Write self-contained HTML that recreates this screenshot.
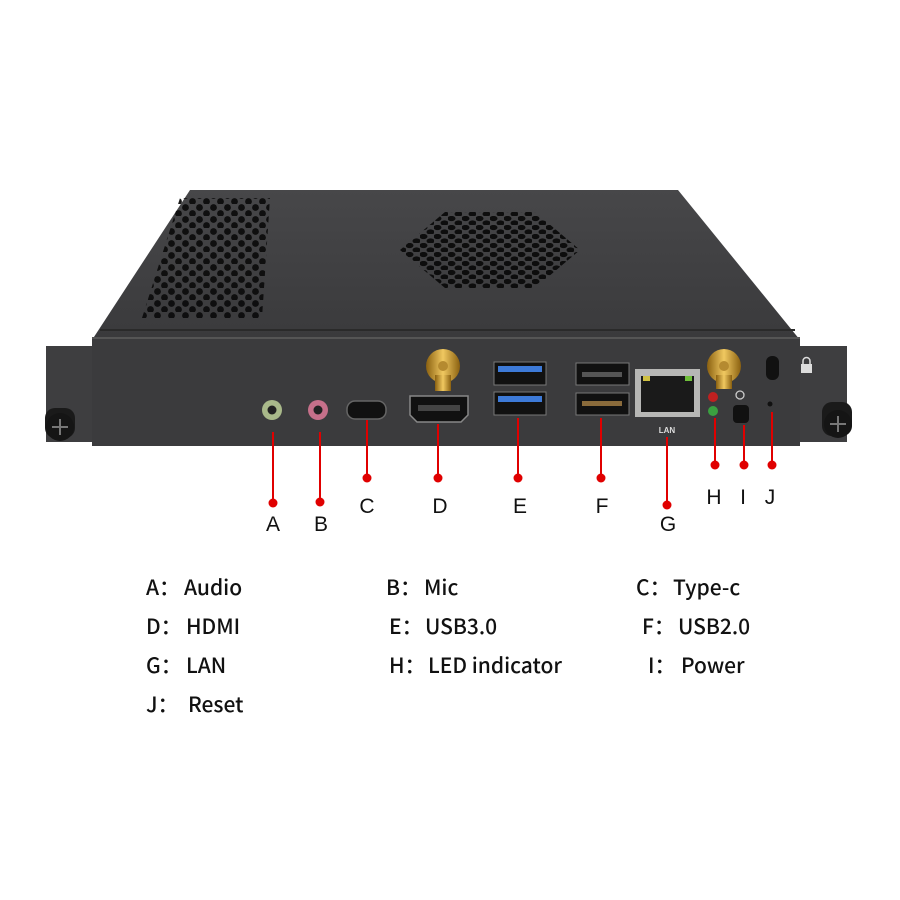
<!DOCTYPE html>
<html><head><meta charset="utf-8"><style>
html,body{margin:0;padding:0;background:#fff;}
svg{display:block}
.l{font-family:"Liberation Sans",sans-serif;font-size:21px;fill:#111}
.t{font-family:"Noto Sans CJK SC","Liberation Sans",sans-serif;font-size:21px;fill:#111;font-weight:500}
</style></head><body>
<svg width="900" height="900" viewBox="0 0 900 900" xmlns="http://www.w3.org/2000/svg">
<defs>
<pattern id="hx" width="14" height="12" patternUnits="userSpaceOnUse">
<circle cx="3.5" cy="3.5" r="3.4" fill="#0c0c0c"/><circle cx="10.5" cy="9.5" r="3.4" fill="#0c0c0c"/>
</pattern>
<pattern id="hx2" width="14" height="9" patternUnits="userSpaceOnUse">
<ellipse cx="3.5" cy="2.5" rx="4" ry="2.6" fill="#0d0d0d"/><ellipse cx="10.5" cy="7" rx="4" ry="2.6" fill="#0d0d0d"/>
</pattern>
<linearGradient id="top" x1="0" y1="0" x2="0" y2="1"><stop offset="0" stop-color="#474749"/><stop offset="1" stop-color="#3a3a3c"/></linearGradient>
<linearGradient id="gold" x1="0" y1="0" x2="1" y2="0"><stop offset="0" stop-color="#8a6010"/><stop offset=".5" stop-color="#f0c860"/><stop offset="1" stop-color="#8a6010"/></linearGradient>
</defs>
<polygon points="190,190 678,190 800,340 92,340" fill="url(#top)"/>
<polygon points="180,198 270,198 262,318 142,318" fill="url(#hx)" opacity=".95"/>
<polygon points="445,212 535,212 580,250 535,288 445,288 400,250" fill="url(#hx2)"/>
<line x1="100" y1="330" x2="795" y2="330" stroke="#2a2a2a" stroke-width="2"/>
<rect x="46" y="346" width="50" height="96" fill="#3e3e40"/>
<rect x="797" y="346" width="50" height="96" fill="#3e3e40"/>
<rect x="92" y="338" width="708" height="108" fill="#3b3b3d"/>
<line x1="92" y1="338" x2="800" y2="338" stroke="#555" stroke-width="2"/>
<rect x="45" y="408" width="30" height="30" rx="10" fill="#1a1a1a"/>
<circle cx="60" cy="427" r="14" fill="#151515"/>
<path d="M52 427h16M60 419v16" stroke="#777" stroke-width="2"/>
<rect x="822" y="402" width="30" height="34" rx="10" fill="#1a1a1a"/>
<circle cx="838" cy="424" r="14" fill="#151515"/>
<path d="M830 424h16M838 416v16" stroke="#777" stroke-width="2"/>
<circle cx="272" cy="410" r="10" fill="#a9b98a"/><circle cx="272" cy="410" r="4.5" fill="#222"/>
<circle cx="318" cy="410" r="10" fill="#c6708a"/><circle cx="318" cy="410" r="4.5" fill="#222"/>
<rect x="347" y="401" width="39" height="18" rx="8" fill="#111" stroke="#666" stroke-width="1.5"/>
<path d="M410 396h58v19l-7 7h-44l-7-7z" fill="#111" stroke="#888" stroke-width="1.5"/>
<rect x="418" y="405" width="42" height="6" fill="#444"/>
<circle cx="443" cy="366" r="17" fill="url(#gold)"/><rect x="435" y="375" width="16" height="16" fill="url(#gold)"/><circle cx="443" cy="366" r="5" fill="#b58a30"/>
<circle cx="724" cy="366" r="17" fill="url(#gold)"/><rect x="716" y="375" width="16" height="14" fill="url(#gold)"/><circle cx="724" cy="366" r="5" fill="#b58a30"/>
<rect x="494" y="362" width="52" height="23" fill="#111" stroke="#777"/><rect x="498" y="366" width="44" height="6" fill="#3d7ad8"/>
<rect x="494" y="392" width="52" height="23" fill="#111" stroke="#777"/><rect x="498" y="396" width="44" height="6" fill="#3d7ad8"/>
<rect x="576" y="363" width="53" height="22" fill="#111" stroke="#777"/><rect x="582" y="372" width="40" height="5" fill="#555"/>
<rect x="576" y="393" width="53" height="22" fill="#111" stroke="#777"/><rect x="582" y="401" width="40" height="5" fill="#8a6b3b"/>
<rect x="635" y="369" width="65" height="48" fill="#b7b7b5"/><rect x="641" y="376" width="53" height="36" fill="#1a1a1a"/>
<rect x="643" y="376" width="7" height="5" fill="#cfc042"/><rect x="685" y="376" width="7" height="5" fill="#6fbf3a"/>
<text x="667" y="433" font-family="Liberation Sans,sans-serif" font-size="8" font-weight="bold" fill="#ddd" text-anchor="middle">LAN</text>
<circle cx="713" cy="397" r="5" fill="#c02020"/><circle cx="713" cy="411" r="5" fill="#3aa040"/>
<rect x="733" y="405" width="16" height="18" rx="4" fill="#111"/>
<circle cx="740" cy="395" r="4" fill="none" stroke="#ccc" stroke-width="1.3"/>
<circle cx="770" cy="404" r="2.5" fill="#111"/>
<rect x="766" y="356" width="13" height="24" rx="6" fill="#111"/>
<rect x="801" y="364" width="11" height="9" fill="#ddd"/><path d="M803 365v-4a3.5 3.5 0 0 1 7 0v4" stroke="#ddd" fill="none" stroke-width="1.5"/>
<g stroke="#e00000" stroke-width="2">
<line x1="273" y1="432" x2="273" y2="503"/><line x1="320" y1="432" x2="320" y2="502"/>
<line x1="367" y1="420" x2="367" y2="478"/><line x1="438" y1="424" x2="438" y2="478"/>
<line x1="518" y1="418" x2="518" y2="478"/><line x1="601" y1="418" x2="601" y2="478"/>
<line x1="667" y1="437" x2="667" y2="505"/><line x1="715" y1="418" x2="715" y2="465"/>
<line x1="744" y1="425" x2="744" y2="465"/><line x1="772" y1="412" x2="772" y2="465"/>
</g>
<g fill="#e00000">
<circle cx="273" cy="503" r="4.5"/><circle cx="320" cy="502" r="4.5"/><circle cx="367" cy="478" r="4.5"/><circle cx="438" cy="478" r="4.5"/><circle cx="518" cy="478" r="4.5"/><circle cx="601" cy="478" r="4.5"/><circle cx="667" cy="505" r="4.5"/><circle cx="715" cy="465" r="4.5"/><circle cx="744" cy="465" r="4.5"/><circle cx="772" cy="465" r="4.5"/>
</g>
<g class="l" text-anchor="middle">
<text x="273" y="531">A</text><text x="321" y="531">B</text><text x="367" y="513">C</text><text x="440" y="513">D</text><text x="520" y="513">E</text><text x="602" y="513">F</text><text x="668" y="531">G</text><text x="714" y="504">H</text><text x="743" y="504">I</text><text x="770" y="504">J</text>
</g>
<g class="t">
<text x="146" y="595">A：<tspan x="184">Audio</tspan></text><text x="386" y="595">B：<tspan x="424">Mic</tspan></text><text x="636" y="595">C：<tspan x="673">Type-c</tspan></text>
<text x="146" y="634">D：<tspan x="186">HDMI</tspan></text><text x="389" y="634">E：<tspan x="425">USB3.0</tspan></text><text x="642" y="634">F：<tspan x="678">USB2.0</tspan></text>
<text x="146" y="673">G：<tspan x="186">LAN</tspan></text><text x="389" y="673">H：<tspan x="428">LED indicator</tspan></text><text x="648" y="673">I：<tspan x="681">Power</tspan></text>
<text x="146" y="712">J：<tspan x="188">Reset</tspan></text>
</g>
</svg>
</body></html>
